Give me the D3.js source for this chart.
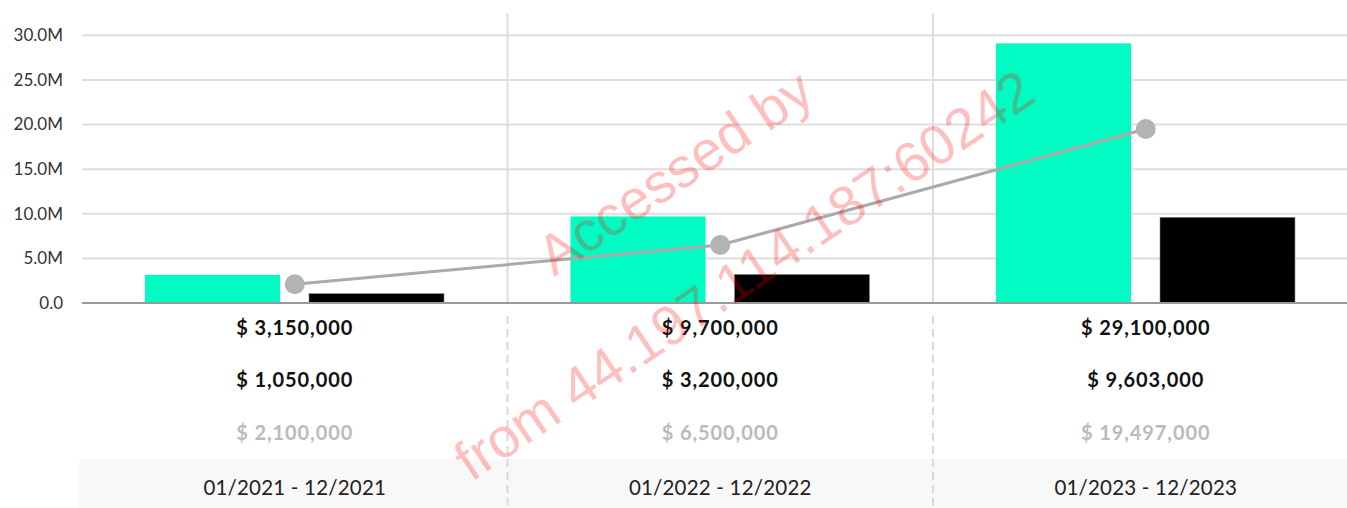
<!DOCTYPE html>
<html>
<head>
<meta charset="utf-8">
<script src="https://cdn.jsdelivr.net/npm/d3@7"></script>
<style>
  body { margin: 0; background: #fff; }
  svg { display: block; font-family: Lato, "Open Sans", sans-serif; }
</style>
</head>
<body>
<div id="chart"></div>
<script>
// data
const periods = ["01/2021 - 12/2021", "01/2022 - 12/2022", "01/2023 - 12/2023"];
const series = ["revenue", "cost"];
const revenue = [3150000, 9700000, 29100000];
const cost = [1050000, 3200000, 9603000];
const margin = [2100000, 6500000, 19497000];
const yTicks = [0, 5000000, 10000000, 15000000, 20000000, 25000000, 30000000];
const watermark = ["Accessed by", "from 44.197.114.187:60242"];

const width = 1347, height = 508;
const left = 82, bandW = 425.5, zeroY = 303, topY = 13;

const svg = d3.select("#chart").append("svg")
    .attr("width", width)
    .attr("height", height);

const x = d3.scaleBand()
    .domain(periods)
    .range([left, left + bandW * periods.length]);

const x1 = d3.scaleBand()
    .domain(series)
    .range([63, 362])
    .paddingInner(29 / 164);

const y = d3.scaleLinear()
    .domain([0, 32500000])
    .range([zeroY, topY]);

// horizontal grid
svg.append("g")
    .selectAll("line")
    .data(yTicks.filter(d => d > 0))
    .join("line")
    .attr("x1", left)
    .attr("x2", width)
    .attr("y1", d => y(d))
    .attr("y2", d => y(d))
    .attr("stroke", "#dedede")
    .attr("stroke-width", 2);

// y axis labels
const yAxis = svg.append("g")
    .attr("transform", `translate(${left - 16},0)`)
    .call(d3.axisLeft(y).tickValues(yTicks).tickSize(0)
        .tickFormat(d => d === 0 ? "0.0" : d3.format(".1f")(d / 1e6) + "M"));
yAxis.select(".domain").remove();
yAxis.selectAll("text")
    .attr("font-family", "Lato, sans-serif")
    .attr("font-size", 17)
    .attr("fill", "#333");

// vertical dividers between periods
const dividers = periods.slice(1);
svg.append("g")
    .selectAll("line")
    .data(dividers)
    .join("line")
    .attr("x1", d => x(d))
    .attr("x2", d => x(d))
    .attr("y1", topY)
    .attr("y2", zeroY)
    .attr("stroke", "#dedede")
    .attr("stroke-width", 2);

// table background for period row
svg.append("rect")
    .attr("x", left - 3)
    .attr("y", 459)
    .attr("width", width - left + 3)
    .attr("height", height - 459)
    .attr("fill", "#f8f8f8");

svg.append("g")
    .selectAll("line")
    .data(dividers)
    .join("line")
    .attr("x1", d => x(d))
    .attr("x2", d => x(d))
    .attr("y1", 316)
    .attr("y2", height)
    .attr("stroke", "#d9d9d9")
    .attr("stroke-width", 2)
    .attr("stroke-dasharray", "8,5");

// bars
const bars = svg.append("g");
bars.selectAll(".bar-revenue")
    .data(revenue)
    .join("rect")
    .attr("class", "bar-revenue")
    .attr("x", (d, i) => x(periods[i]) + x1("revenue"))
    .attr("y", d => y(d))
    .attr("width", x1.bandwidth())
    .attr("height", d => zeroY - y(d))
    .attr("fill", "#00fcc2");

bars.selectAll(".bar-cost")
    .data(cost)
    .join("rect")
    .attr("class", "bar-cost")
    .attr("x", (d, i) => x(periods[i]) + x1("cost"))
    .attr("y", d => y(d))
    .attr("width", x1.bandwidth())
    .attr("height", d => zeroY - y(d))
    .attr("fill", "#000")
    .attr("stroke", "#888")
    .attr("stroke-width", 0.6);

// zero axis line
svg.append("line")
    .attr("x1", left)
    .attr("x2", width)
    .attr("y1", zeroY)
    .attr("y2", zeroY)
    .attr("stroke", "#999")
    .attr("stroke-width", 2);

// margin line
const line = d3.line()
    .x((d, i) => x(periods[i]) + x.bandwidth() / 2)
    .y(d => y(d));

svg.append("path")
    .datum(margin)
    .attr("d", line)
    .attr("fill", "none")
    .attr("stroke", "#aaa")
    .attr("stroke-width", 3);

svg.append("g")
    .selectAll("circle")
    .data(margin)
    .join("circle")
    .attr("cx", (d, i) => x(periods[i]) + x.bandwidth() / 2)
    .attr("cy", d => y(d))
    .attr("r", 10)
    .attr("fill", "#b3b3b3");

// value table
const money = d => "$ " + d3.format(",")(d);
const rows = [
    {values: revenue, y: 335, color: "#111"},
    {values: cost, y: 387, color: "#111"},
    {values: margin, y: 440, color: "#bbb"}
];
rows.forEach(row => {
    svg.append("g")
        .selectAll("text")
        .data(row.values)
        .join("text")
        .attr("x", (d, i) => x(periods[i]) + x.bandwidth() / 2)
        .attr("y", row.y)
        .attr("text-anchor", "middle")
        .attr("font-size", 20)
        .attr("font-weight", "bold")
        .attr("letter-spacing", 0.9)
        .attr("fill", row.color)
        .text(money);
});

svg.append("g")
    .selectAll("text")
    .data(periods)
    .join("text")
    .attr("x", d => x(d) + x.bandwidth() / 2)
    .attr("y", 495)
    .attr("text-anchor", "middle")
    .attr("font-size", 20.5)
    .attr("letter-spacing", 0.2)
    .attr("fill", "#222")
    .text(d => d);

// watermark
const wm = svg.append("g")
    .attr("transform", "translate(709,223) rotate(-34)");
wm.selectAll("text")
    .data(watermark)
    .join("text")
    .attr("x", 0)
    .attr("y", (d, i) => i === 0 ? -42 : 82)
    .attr("text-anchor", "middle")
    .attr("font-family", "'Liberation Sans', Arial, sans-serif")
    .attr("font-size", 56)
    .attr("fill", "rgba(255,0,0,0.25)")
    .text(d => d);
</script>
</body>
</html>
